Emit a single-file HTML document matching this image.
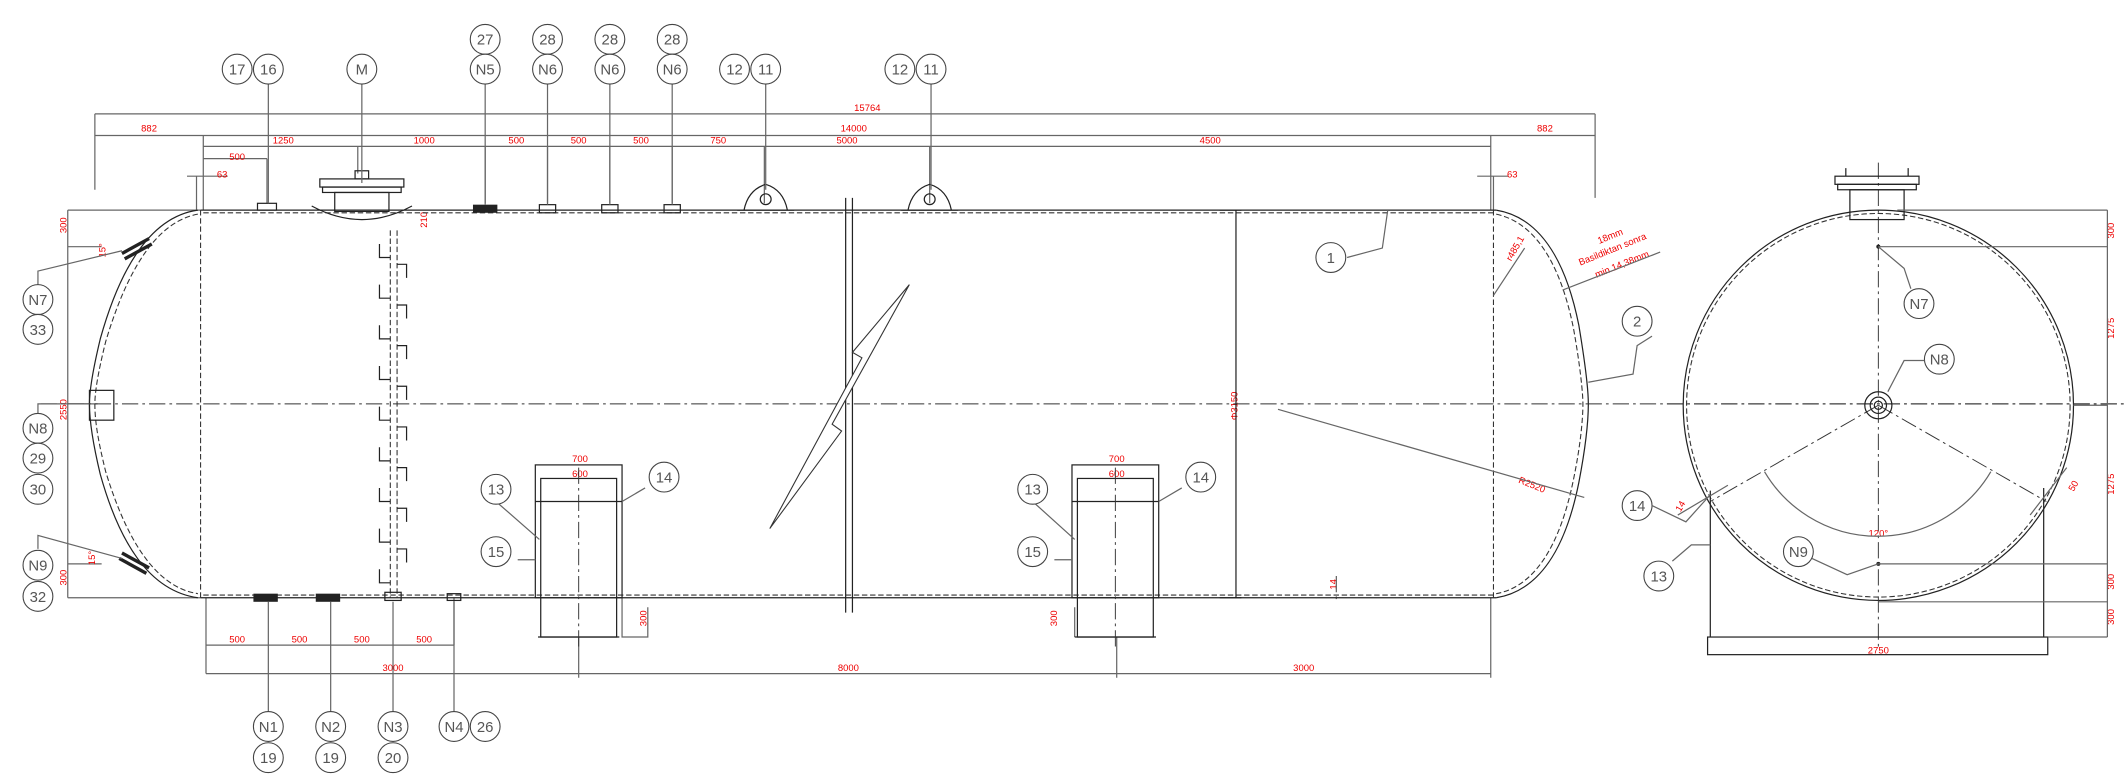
<!DOCTYPE html>
<html><head><meta charset="utf-8"><style>
html,body{margin:0;padding:0;background:#fff}
svg{display:block}
.l{stroke:#666;stroke-width:0.9;fill:none}
.k{stroke:#222;stroke-width:0.9;fill:none}
.d{stroke:#333;stroke-width:0.8;fill:none;stroke-dasharray:4 2}
.c{stroke:#333;stroke-width:0.7;fill:none;stroke-dasharray:12 3 2 3}
.r{fill:#e00;font-family:"Liberation Sans",sans-serif;font-size:7px}
.t{fill:#555;font-family:"Liberation Sans",sans-serif;font-size:11px;text-anchor:middle}
.b circle{fill:#fff;stroke:#444;stroke-width:0.8}
</style></head><body>
<svg width="2125" height="778" viewBox="0 0 1568 574" preserveAspectRatio="none" xmlns="http://www.w3.org/2000/svg">
<!-- dimension lines top -->
<g class="l">
<path d="M70 84H1177M70 84V140M1177 84V146"/>
<path d="M70 100H1177M150 100V155M1100 100V155"/>
<path d="M150 108H1100M264 108V128M358 108V150M404 108V150M450 108V150M496 108V150M564 108V150M686 108V150"/>
<path d="M150 117H197M197 117V150"/>
<path d="M138 130H168M145 130V155M1090 130H1113M1102 130V155"/>
<path d="M50 155H148M50 155V441M50 441H148M50 182H75M50 416H75M50 298H72"/>
<!-- bottom dims -->
<path d="M152 476H335M335 441V476M152 441V497M152 497H1100M427 470V500M824 470V500M1100 441V500"/>
<path d="M459 441V470H478V448M793 448V470"/>
</g>
<g class="r">
<text x="640" y="82" text-anchor="middle">15764</text>
<text x="110" y="97" text-anchor="middle">882</text>
<text x="630" y="97" text-anchor="middle">14000</text>
<text x="1140" y="97" text-anchor="middle">882</text>
<text x="209" y="106" text-anchor="middle">1250</text>
<text x="313" y="106" text-anchor="middle">1000</text>
<text x="381" y="106" text-anchor="middle">500</text>
<text x="427" y="106" text-anchor="middle">500</text>
<text x="473" y="106" text-anchor="middle">500</text>
<text x="530" y="106" text-anchor="middle">750</text>
<text x="625" y="106" text-anchor="middle">5000</text>
<text x="893" y="106" text-anchor="middle">4500</text>
<text x="175" y="118" text-anchor="middle">500</text>
<text x="160" y="131">63</text>
<text x="1112" y="131">63</text>
<text x="175" y="474" text-anchor="middle">500</text>
<text x="221" y="474" text-anchor="middle">500</text>
<text x="267" y="474" text-anchor="middle">500</text>
<text x="313" y="474" text-anchor="middle">500</text>
<text x="290" y="495" text-anchor="middle">3000</text>
<text x="626" y="495" text-anchor="middle">8000</text>
<text x="962" y="495" text-anchor="middle">3000</text>
<text x="428" y="341" text-anchor="middle">700</text>
<text x="428" y="352" text-anchor="middle">600</text>
<text x="824" y="341" text-anchor="middle">700</text>
<text x="824" y="352" text-anchor="middle">600</text>
<text transform="translate(49,172) rotate(-90)">300</text>
<text transform="translate(49,432) rotate(-90)">300</text>
<text transform="translate(49,310) rotate(-90)">2550</text>
<text transform="translate(477,462) rotate(-90)">300</text>
<text transform="translate(780,462) rotate(-90)">300</text>
<text transform="translate(315,168) rotate(-90)">210</text>
<text transform="translate(913,310) rotate(-90)">Φ3150</text>
<text transform="translate(986,435) rotate(-90)">14</text>
<text transform="translate(78,190) rotate(-90)">15°</text>
<text transform="translate(70,417) rotate(-90)">15°</text>
<text transform="translate(1115,193) rotate(-60)">r485,1</text>
<text transform="translate(1120,356) rotate(22)">R2520</text>
<text transform="translate(1180,180) rotate(-22)">18mm</text>
<text transform="translate(1166,196) rotate(-22)">Basildiktan sonra</text>
<text transform="translate(1178,205) rotate(-22)">min.14,38mm</text>
<text transform="translate(1560,176) rotate(-90)">300</text>
<text transform="translate(1560,250) rotate(-90)">1275</text>
<text transform="translate(1560,365) rotate(-90)">1275</text>
<text transform="translate(1560,435) rotate(-90)">300</text>
<text transform="translate(1560,461) rotate(-90)">300</text>
<text x="1386" y="482" text-anchor="middle">2750</text>
<text x="1386" y="396" text-anchor="middle">120°</text>
<text transform="translate(1240,378) rotate(-60)">14</text>
<text transform="translate(1530,363) rotate(-60)">50</text>
</g>
<!-- tank side view -->
<path class="k" d="M148 155H1104M148 441H1104"/>
<path class="d" d="M150 157H1102M150 439H1102"/>
<path class="d" d="M148 155V441M1102 155V441"/>
<path class="k" d="M146 155C110 160 88 200 74 250C68 275 66 290 66 298C66 310 68 325 74 350C88 400 110 436 146 441"/>
<path class="d" d="M146 158C113 164 92 205 78 252C72 276 70 290 70 298C70 310 72 324 78 348C92 394 113 433 146 438"/>
<path class="k" d="M1104 155C1135 160 1155 190 1165 240C1170 270 1172 290 1172 298C1172 310 1170 330 1165 356C1155 406 1135 436 1104 441"/>
<path class="d" d="M1104 158C1132 164 1151 193 1161 242C1166 270 1168 290 1168 298C1168 310 1166 330 1161 354C1151 403 1132 433 1104 438"/>
<path class="c" d="M30 298H1568"/>
<path class="k" d="M912 155V441M900 155H916M900 441H916"/>
<!-- break -->
<path class="k" d="M624 146V452M629 146V452"/>
<path fill="#fff" stroke="#333" stroke-width="0.8" d="M671 210L629 260L636 264L568 390L621 318L614 313Z"/>
<!-- manhole M -->
<g class="k"><rect x="236" y="132" width="62" height="6"/><rect x="238" y="138" width="58" height="4"/><rect x="247" y="142" width="40" height="14"/><rect x="262" y="126" width="10" height="6"/><path d="M230 152Q267 172 304 152"/></g>
<rect x="190" y="150" width="14" height="5" class="k"/>
<!-- ladder -->
<path class="d" d="M288 170V441M293 170V441"/>
<g class="k"><path d="M280 180V190H288M280 210V220H288M280 240V250H288M280 270V280H288M280 300V310H288M280 330V340H288M280 360V370H288M280 390V400H288M280 420V430H288M293 195H300V205M293 225H300V235M293 255H300V265M293 285H300V295M293 315H300V325M293 345H300V355M293 375H300V385M293 405H300V415"/></g>
<!-- top nozzles -->
<g fill="#222"><rect x="349" y="151" width="18" height="6"/><rect x="187" y="438" width="18" height="6"/><rect x="233" y="438" width="18" height="6"/></g>
<g class="k"><rect x="398" y="151" width="12" height="6"/><rect x="444" y="151" width="12" height="6"/><rect x="490" y="151" width="12" height="6"/><rect x="284" y="437" width="12" height="6"/><rect x="330" y="438" width="10" height="5"/>
<path d="M549 155Q552 140 565 136Q578 140 581 155ZM544 155H586M670 155Q673 140 686 136Q699 140 702 155ZM665 155H707"/><circle cx="565" cy="147" r="4"/><circle cx="686" cy="147" r="4"/>
<rect x="66" y="288" width="18" height="22"/>
<path d="M90 187L110 176M92 191L112 180M88 412L108 423M90 408L110 419" stroke-width="2.5"/>
</g>
<!-- saddles -->
<g class="k"><rect x="395" y="343" width="64" height="98"/><rect x="399" y="353" width="56" height="117"/><path d="M395 370H459M397 470H457"/>
<rect x="791" y="343" width="64" height="98"/><rect x="795" y="353" width="56" height="117"/><path d="M791 370H855M793 470H853"/></g>
<path class="c" d="M427 345V480M823 345V480M986 425V445"/>
<!-- leaders -->
<g class="l">
<path d="M198 62V150M267 62V135M358 62V151M404 62V151M450 62V151M496 62V151M565 62V140M687 62V140"/>
<path d="M198 444V525M244 444V525M290 444V525M335 444V525"/>
<path d="M28 210V200L90 185M28 405V395L90 412M28 305V298H66"/>
<path d="M994 190L1020 183L1024 155M1219 248L1208 255L1205 276L1172 282"/>
<path d="M943 302L1169 367"/>
<path d="M1153 214L1225 186M1102 218L1125 183"/>
<path d="M366 370L398 398M382 413H395M476 360L459 370M762 370L793 398M778 413H791M872 360L855 370"/>
</g>
<g class="b">
<circle cx="175" cy="51" r="11"/><circle cx="198" cy="51" r="11"/><circle cx="267" cy="51" r="11"/>
<circle cx="358" cy="29" r="11"/><circle cx="358" cy="51" r="11"/>
<circle cx="404" cy="29" r="11"/><circle cx="404" cy="51" r="11"/>
<circle cx="450" cy="29" r="11"/><circle cx="450" cy="51" r="11"/>
<circle cx="496" cy="29" r="11"/><circle cx="496" cy="51" r="11"/>
<circle cx="542" cy="51" r="11"/><circle cx="565" cy="51" r="11"/>
<circle cx="664" cy="51" r="11"/><circle cx="687" cy="51" r="11"/>
<circle cx="28" cy="221" r="11"/><circle cx="28" cy="243" r="11"/>
<circle cx="28" cy="316" r="11"/><circle cx="28" cy="338" r="11"/><circle cx="28" cy="361" r="11"/>
<circle cx="28" cy="417" r="11"/><circle cx="28" cy="440" r="11"/>
<circle cx="198" cy="536" r="11"/><circle cx="198" cy="559" r="11"/>
<circle cx="244" cy="536" r="11"/><circle cx="244" cy="559" r="11"/>
<circle cx="290" cy="536" r="11"/><circle cx="290" cy="559" r="11"/>
<circle cx="335" cy="536" r="11"/><circle cx="358" cy="536" r="11"/>
<circle cx="366" cy="361" r="11"/><circle cx="366" cy="407" r="11"/><circle cx="490" cy="352" r="11"/>
<circle cx="762" cy="361" r="11"/><circle cx="762" cy="407" r="11"/><circle cx="886" cy="352" r="11"/>
<circle cx="982" cy="190" r="11"/><circle cx="1208" cy="237" r="11"/>
<circle cx="1416" cy="224" r="11"/><circle cx="1431" cy="265" r="11"/><circle cx="1327" cy="407" r="11"/>
<circle cx="1208" cy="373" r="11"/><circle cx="1224" cy="425" r="11"/>
</g>
<g class="t">
<text x="175" y="55">17</text><text x="198" y="55">16</text><text x="267" y="55">M</text>
<text x="358" y="33">27</text><text x="358" y="55">N5</text>
<text x="404" y="33">28</text><text x="404" y="55">N6</text>
<text x="450" y="33">28</text><text x="450" y="55">N6</text>
<text x="496" y="33">28</text><text x="496" y="55">N6</text>
<text x="542" y="55">12</text><text x="565" y="55">11</text>
<text x="664" y="55">12</text><text x="687" y="55">11</text>
<text x="28" y="225">N7</text><text x="28" y="247">33</text>
<text x="28" y="320">N8</text><text x="28" y="342">29</text><text x="28" y="365">30</text>
<text x="28" y="421">N9</text><text x="28" y="444">32</text>
<text x="198" y="540">N1</text><text x="198" y="563">19</text>
<text x="244" y="540">N2</text><text x="244" y="563">19</text>
<text x="290" y="540">N3</text><text x="290" y="563">20</text>
<text x="335" y="540">N4</text><text x="358" y="540">26</text>
<text x="366" y="365">13</text><text x="366" y="411">15</text><text x="490" y="356">14</text>
<text x="762" y="365">13</text><text x="762" y="411">15</text><text x="886" y="356">14</text>
<text x="982" y="194">1</text><text x="1208" y="241">2</text>
<text x="1416" y="228">N7</text><text x="1431" y="269">N8</text><text x="1327" y="411">N9</text>
<text x="1208" y="377">14</text><text x="1224" y="429">13</text>
</g>
<!-- end view -->
<circle cx="1386" cy="299" r="144" class="k"/>
<circle cx="1386" cy="299" r="141.5" class="d"/>
<path class="c" d="M1386 120V480M1230 298H1568"/>
<path class="c" d="M1386 299L1262 370M1386 299L1510 370"/>
<path class="l" d="M1302 348A97 97 0 0 0 1469 348"/>
<g class="k"><rect x="1354" y="130" width="62" height="6"/><rect x="1356" y="136" width="58" height="4"/><rect x="1365" y="140" width="40" height="22"/><path d="M1362 124V130M1408 124V130"/>
<circle cx="1386" cy="299" r="10"/><circle cx="1386" cy="299" r="6"/><circle cx="1386" cy="299" r="3"/>
<path d="M1262 362V470M1508 360V470"/><rect x="1260" y="470" width="251" height="13"/></g>
<circle cx="1386" cy="182" r="1.5" fill="#222"/><circle cx="1386" cy="416" r="1.5" fill="#222"/>
<g class="l">
<path d="M1400 155H1555M1386 182H1555M1530 299H1555M1386 416H1555M1386 444H1555M1511 470H1555M1555 155V470"/>
<path d="M1386 182L1405 198L1410 213M1393 289L1405 266H1420M1386 416L1363 424L1337 412M1219 373L1244 385L1262 365M1234 414L1248 402H1262"/>
<path d="M1238 380L1275 358M1498 380L1525 345"/>
</g>
</svg>
</body></html>
